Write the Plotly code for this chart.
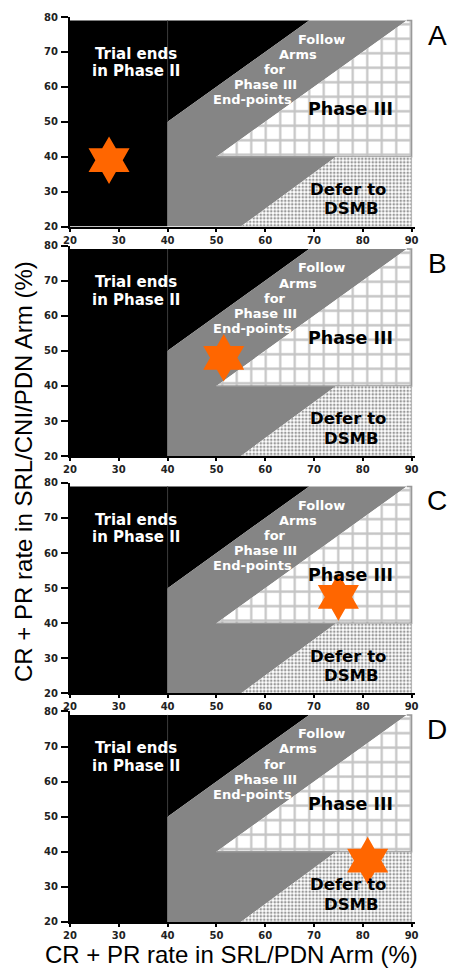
import plotly.graph_objects as go

# ---------------- data ----------------
panel_labels = ["A", "B", "C", "D"]
star_x = [28, 51.5, 75, 81]          # CR+PR rate in SRL/PDN arm (%)
star_y = [39, 48, 47.5, 37.5]        # CR+PR rate in SRL/CNI/PDN arm (%)

x_ticks = [20, 30, 40, 50, 60, 70, 80, 90]
y_ticks = [20, 30, 40, 50, 60, 70, 80]

# decision regions (boundaries in % units)
black_x = [20, 20, 69, 40, 40]
black_y = [20, 79, 79, 50, 20]
gray_x = [40, 40, 69, 89, 50, 74.5, 55]
gray_y = [20, 50, 79, 79, 40, 40, 20]
grid_x = [50, 90, 90, 89]
grid_y = [40, 40, 79, 79]
dsmb_x = [55, 90, 90, 74.5]
dsmb_y = [20, 20, 40, 40]
divider_x = [40, 40]
divider_y = [50, 79]

trial_lines = ["Trial ends", "in Phase II"]
trial_pos = [(33.5, 69.5), (33.5, 64.5)]
follow_lines = ["Follow", "Arms", "for", "Phase III", "End-points"]
follow_pos = [(71.5, 73.6), (66.7, 69.3), (62.0, 65.0), (60.0, 60.7), (57.5, 56.4)]
phase3_text, phase3_pos = "Phase III", (77.5, 53.7)
defer_lines = ["Defer to", "DSMB"]
defer_pos = [(76.9, 30.6), (77.6, 25.1)]

x_title = "CR + PR rate in SRL/PDN Arm (%)"
y_title = "CR + PR rate in SRL/CNI/PDN Arm (%)"

# ---------------- layout geometry ----------------
W, H = 452, 974
ml, mr, mt, mb = 70, 37, 11, 52
ph = H - mt - mb
domains = [(0.7684, 1.0), (0.5148, 0.7475), (0.2525, 0.4852), (0.0, 0.2327)]

fig = go.Figure()
layout = dict(
    width=W, height=H,
    margin=dict(l=ml, r=mr, t=mt, b=mb),
    paper_bgcolor="white", plot_bgcolor="white",
    showlegend=False,
    font=dict(family="DejaVu Sans", color="#222"),
)
annotations = []

bold_tick = dict(family="DejaVu Sans", size=10, color="#222", weight="bold")

for i, lab in enumerate(panel_labels):
    n = "" if i == 0 else str(i + 1)
    xa, ya = "x" + n, "y" + n
    layout["xaxis" + n] = dict(
        domain=[0, 1], anchor=ya, range=[20, 90.7],
        tickvals=x_ticks, ticks="outside", ticklen=3, tickwidth=2, tickcolor="black",
        showline=True, linecolor="black", linewidth=2, showgrid=False, zeroline=False,
        tickfont=bold_tick, ticklabelstandoff=0, fixedrange=True,
    )
    layout["yaxis" + n] = dict(
        domain=list(domains[i]), anchor=xa, range=[20, 80],
        tickvals=y_ticks, ticks="outside", ticklen=7, tickwidth=2, tickcolor="black",
        showline=True, linecolor="black", linewidth=2, showgrid=False, zeroline=False,
        tickfont=bold_tick, ticklabelstandoff=1, fixedrange=True,
    )

    fig.add_trace(go.Scatter(x=black_x, y=black_y, xaxis=xa, yaxis=ya, mode="lines",
                             fill="toself", fillcolor="black", line=dict(width=0),
                             hoverinfo="skip"))
    fig.add_trace(go.Scatter(x=gray_x, y=gray_y, xaxis=xa, yaxis=ya, mode="lines",
                             fill="toself", fillcolor="#858585", line=dict(width=0),
                             hoverinfo="skip"))
    fig.add_trace(go.Scatter(x=grid_x, y=grid_y, xaxis=xa, yaxis=ya, mode="lines",
                             fill="toself", fillcolor="white",
                             fillpattern=dict(shape="+", size=14.5, solidity=0.28,
                                              fgcolor="#8a8a8a", bgcolor="white"),
                             line=dict(width=1.5, color="#999999"), hoverinfo="skip"))
    fig.add_trace(go.Scatter(x=dsmb_x, y=dsmb_y, xaxis=xa, yaxis=ya, mode="lines",
                             fill="toself", fillcolor="white",
                             fillpattern=dict(shape=".", size=3.5, solidity=0.45,
                                              fgcolor="#333333", bgcolor="white"),
                             line=dict(width=0.8, color="#aaaaaa"), hoverinfo="skip"))
    fig.add_trace(go.Scatter(x=divider_x, y=divider_y, xaxis=xa, yaxis=ya, mode="lines",
                             line=dict(width=1, color="#3c3c3c"), hoverinfo="skip"))
    fig.add_trace(go.Scatter(x=[star_x[i]], y=[star_y[i]], xaxis=xa, yaxis=ya,
                             mode="markers", cliponaxis=False,
                             marker=dict(symbol="hexagram", size=36, color="#FF6600",
                                         line=dict(width=0))))

    for t, (px, py) in zip(trial_lines, trial_pos):
        annotations.append(dict(x=px, y=py, xref=xa, yref=ya, text=t, showarrow=False,
                                font=dict(family="DejaVu Sans", size=15, color="white",
                                          weight="bold")))
    for t, (px, py) in zip(follow_lines, follow_pos):
        annotations.append(dict(x=px, y=py, xref=xa, yref=ya, text=t, showarrow=False,
                                font=dict(family="DejaVu Sans", size=13, color="white",
                                          weight="bold")))
    annotations.append(dict(x=phase3_pos[0], y=phase3_pos[1], xref=xa, yref=ya,
                            text=phase3_text, showarrow=False,
                            font=dict(family="DejaVu Sans", size=17.5, color="black",
                                      weight="bold")))
    for t, (px, py) in zip(defer_lines, defer_pos):
        annotations.append(dict(x=px, y=py, xref=xa, yref=ya, text=t, showarrow=False,
                                font=dict(family="DejaVu Sans", size=16.5, color="black",
                                          weight="bold")))
    # panel letter
    annotations.append(dict(x=1.064, y=domains[i][1], xref="paper", yref="paper",
                            yshift=-18, text=lab, showarrow=False,
                            xanchor="center", yanchor="middle",
                            font=dict(family="Liberation Sans", size=28, color="black")))

# axis titles
annotations.append(dict(x=(231 - ml) / (W - ml - mr), y=(H - mb - 955) / ph,
                        xref="paper", yref="paper", text=x_title, showarrow=False,
                        xanchor="center", yanchor="middle",
                        font=dict(family="Liberation Sans", size=24, color="black")))
annotations.append(dict(x=(24 - ml) / (W - ml - mr), y=(H - mb - 469) / ph,
                        xref="paper", yref="paper", text=y_title, showarrow=False,
                        textangle=-90, xanchor="center", yanchor="middle",
                        font=dict(family="Liberation Sans", size=24, color="black")))

layout["annotations"] = annotations
fig.update_layout(**layout)
fig.write_html(
    "out.html",
    config={"displayModeBar": False},
    post_script="document.body.style.margin='0px';document.body.style.overflow='hidden';",
)
